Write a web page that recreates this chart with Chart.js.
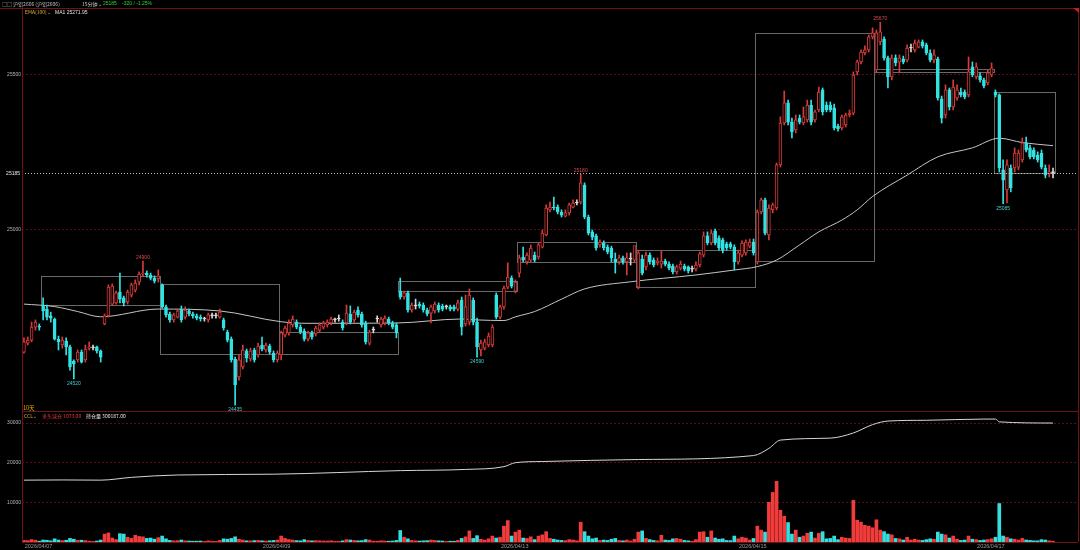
<!DOCTYPE html>
<html><head><meta charset="utf-8">
<script src="https://cdn.jsdelivr.net/npm/chart.js@4.4.1/dist/chart.umd.min.js"></script>
<style>
html,body{margin:0;padding:0;background:#000;width:1080px;height:550px;overflow:hidden;}
#wrap{position:relative;width:1080px;height:550px;background:#000;}
#main{position:absolute;left:0;top:0;}
#sub{position:absolute;left:0;top:412px;}
</style></head><body>
<div id="wrap"><canvas id="main" width="1080" height="412"></canvas><canvas id="sub" width="1080" height="138"></canvas></div>
<script>
// ---- structure ----
const preBars = 5;
const barsPerDay = [31,31,31,31,31,31,31,31,16];
const dateTicks = ['2026/04/07','2026/04/09','2026/04/13','2026/04/15','2026/04/17'];
const dateTickDays = [0,2,4,6,8];

// ---- candles (15-minute bars) ----
const opens = [
24606,24635,24645,24687,24690,
24758,24745,24723,24713,24648,24629,24642,24623,24577,24581,24606,24581,24619,24620,24623,24610,24697,24723,24761,24765,24800,24781,24768,24790,24806,24832,24858,24861,24855,24845,24842,
24823,24752,24729,24710,24719,24745,24719,24739,24729,24723,24719,24713,24710,24723,24723,24719,24710,24671,24648,24584,24526,24558,24610,24584,24613,24597,24629,24613,24626,24603,24581,
24597,24661,24668,24694,24703,24687,24674,24648,24668,24665,24677,24687,24694,24700,24710,24713,24703,24700,24729,24710,24742,24729,24700,24635,24677,24713,24694,24700,24713,24700,24694,
24803,24784,24797,24742,24755,24761,24758,24742,24732,24739,24758,24755,24752,24752,24752,24745,24774,24697,24703,24774,24703,24613,24619,24629,24629,24790,24719,24752,24816,24845,24803,
24861,24913,24897,24903,24919,24913,24945,24984,25065,25074,25074,25058,25045,25055,25074,25087,25090,25145,25042,24994,24981,24952,24958,24945,24942,24906,24897,24910,24897,24906,24903,
24816,24906,24881,24919,24903,24894,24890,24900,24890,24884,24865,24877,24884,24881,24874,24874,24887,24919,24981,24958,24997,24974,24968,24955,24955,24945,24897,24919,24926,24948,24961,
24897,25058,25097,24984,25065,25071,25210,25345,25410,25348,25323,25361,25345,25355,25403,25355,25387,25452,25403,25403,25394,25335,25329,25339,25371,25377,25510,25542,25571,25581,25623,
25516,25607,25616,25555,25494,25555,25542,25552,25548,25587,25581,25590,25607,25597,25571,25548,25552,25423,25371,25452,25397,25426,25445,25445,25436,25526,25494,25497,25484,25474,25500,
25445,25436,25194,25129,25200,25200,25203,25226,25281,25265,25258,25242,25248,25200,25184,25185];
const highs = [
24652,24655,24703,24710,24697,
24781,24758,24735,24716,24658,24655,24652,24629,24581,24613,24613,24629,24639,24629,24626,24613,24729,24823,24826,24803,24861,24787,24806,24829,24839,24865,24900,24868,24861,24852,24871,
24826,24758,24735,24732,24745,24755,24752,24745,24735,24729,24726,24719,24732,24732,24732,24745,24716,24677,24655,24590,24597,24629,24616,24619,24619,24635,24655,24635,24632,24610,24610,
24674,24690,24710,24723,24710,24694,24681,24674,24674,24690,24700,24706,24710,24719,24716,24726,24710,24758,24755,24742,24752,24735,24706,24677,24687,24723,24719,24723,24719,24706,24700,
24845,24803,24803,24765,24777,24768,24765,24748,24758,24768,24765,24761,24758,24758,24758,24774,24784,24790,24810,24781,24716,24645,24648,24668,24694,24797,24758,24819,24894,24852,24839,
24919,24945,24926,24952,24929,24958,25000,25081,25090,25106,25081,25065,25065,25087,25097,25097,25180,25152,25048,25000,24987,24968,24965,24952,24948,24926,24919,24916,24926,24926,24942,
24935,24919,24929,24926,24910,24910,24932,24906,24897,24890,24887,24900,24890,24884,24884,24897,24929,24994,24994,25000,25003,24981,24974,24961,24961,24952,24935,24965,24968,24971,24971,
25065,25103,25103,25081,25087,25216,25365,25448,25419,25361,25371,25371,25397,25419,25419,25387,25461,25458,25413,25413,25406,25342,25371,25377,25387,25510,25548,25581,25594,25629,25652,
25645,25670,25623,25561,25565,25565,25565,25561,25597,25600,25613,25613,25613,25603,25581,25581,25558,25432,25468,25458,25484,25468,25458,25452,25558,25542,25539,25507,25490,25516,25539,
25452,25439,25226,25226,25210,25265,25258,25297,25300,25274,25265,25252,25258,25210,25210,25200];
const lows = [
24603,24629,24639,24677,24677,
24710,24710,24703,24645,24613,24619,24597,24548,24520,24574,24571,24574,24613,24613,24603,24574,24694,24719,24758,24761,24765,24755,24761,24784,24800,24823,24852,24848,24839,24829,24832,
24748,24719,24703,24703,24716,24703,24713,24723,24716,24710,24706,24706,24703,24716,24716,24716,24677,24639,24574,24435,24516,24552,24574,24577,24574,24590,24610,24606,24600,24574,24574,
24581,24655,24661,24687,24681,24665,24642,24642,24648,24658,24671,24681,24687,24694,24703,24706,24677,24694,24697,24703,24719,24687,24632,24629,24668,24703,24687,24694,24694,24681,24652,
24777,24777,24735,24735,24745,24748,24735,24723,24700,24732,24735,24739,24745,24739,24739,24739,24661,24690,24694,24694,24590,24594,24613,24623,24623,24713,24713,24745,24810,24813,24797,
24848,24897,24890,24897,24897,24906,24942,24981,25058,25065,25052,25042,25042,25048,25071,25081,25084,25036,24984,24968,24935,24945,24935,24923,24897,24861,24890,24890,24855,24887,24897,
24810,24855,24871,24890,24881,24887,24877,24884,24871,24858,24858,24871,24868,24861,24865,24868,24881,24913,24952,24952,24952,24935,24926,24935,24939,24871,24890,24913,24919,24942,24919,
24890,25052,24984,24968,25055,25065,25203,25339,25339,25297,25313,25342,25339,25348,25339,25348,25381,25371,25381,25381,25323,25319,25323,25332,25365,25371,25500,25536,25565,25574,25616,
25510,25597,25548,25458,25484,25529,25507,25536,25542,25574,25574,25587,25587,25565,25542,25539,25419,25345,25361,25387,25387,25419,25429,25423,25429,25494,25487,25477,25458,25468,25494,
25429,25187,25085,25087,25123,25187,25194,25219,25252,25229,25229,25219,25197,25168,25171,25168];
const closes = [
24639,24645,24687,24703,24687,
24739,24719,24716,24648,24639,24645,24623,24558,24568,24606,24574,24616,24623,24620,24610,24590,24723,24816,24819,24797,24777,24765,24800,24823,24829,24858,24861,24855,24845,24835,24852,
24752,24726,24710,24726,24739,24710,24742,24729,24723,24716,24713,24713,24726,24723,24723,24735,24684,24645,24581,24500,24581,24613,24587,24610,24581,24626,24616,24629,24606,24581,24603,
24668,24684,24700,24713,24687,24671,24648,24668,24655,24684,24694,24700,24703,24713,24710,24713,24684,24732,24703,24735,24726,24694,24639,24671,24677,24713,24713,24716,24700,24687,24668,
24784,24797,24742,24758,24755,24755,24742,24729,24752,24761,24742,24745,24752,24745,24745,24765,24687,24752,24790,24703,24623,24635,24639,24658,24687,24719,24752,24813,24848,24819,24832,
24910,24903,24919,24942,24903,24952,24990,25071,25074,25071,25058,25048,25055,25081,25087,25087,25152,25042,24990,24977,24942,24961,24942,24929,24910,24897,24910,24897,24910,24906,24950,
24926,24861,24919,24897,24887,24900,24900,24890,24877,24865,24881,24890,24874,24868,24874,24887,24923,24981,24958,24990,24958,24942,24935,24942,24945,24897,24926,24958,24961,24961,24926,
25058,25097,24990,25071,25081,25210,25345,25410,25348,25316,25355,25348,25365,25403,25348,25381,25445,25381,25387,25387,25329,25326,25365,25371,25377,25500,25542,25574,25581,25623,25636,
25636,25639,25555,25494,25555,25539,25555,25542,25587,25587,25603,25607,25594,25571,25548,25565,25426,25361,25452,25397,25461,25452,25436,25429,25510,25500,25526,25484,25465,25507,25523,
25436,25200,25161,25210,25136,25248,25248,25281,25258,25236,25236,25226,25203,25177,25187,25185];

// ---- volume (lower panel) ----
const volumes = [
400,350,600,450,200,
500,450,300,800,500,350,450,900,700,400,450,350,200,150,250,500,2000,2300,1000,600,2100,2000,1200,900,1700,1400,1300,900,1000,700,1100,
1500,800,400,300,350,500,300,250,200,200,250,150,300,150,150,400,800,700,900,1300,700,500,300,300,350,400,300,250,300,400,500,
1500,900,600,500,350,300,600,400,300,350,300,250,250,300,150,150,300,600,500,400,300,350,600,500,200,200,300,250,200,250,400,
2900,1200,800,400,300,250,300,350,500,400,300,250,150,200,200,400,900,1300,2800,900,1600,700,500,800,1500,1000,1200,4000,5400,1500,2500,
3000,1000,900,1300,600,1500,1800,2600,900,700,500,400,350,600,500,300,5000,2600,1500,800,1000,400,500,400,700,900,400,300,500,250,700,
2500,2800,900,600,400,300,1700,500,400,800,900,700,400,300,200,600,2500,2600,1200,2800,1000,700,800,400,350,1500,800,1200,1000,500,900,
4000,3000,2500,10000,12500,15300,8000,6500,4900,2000,3000,1200,1500,2200,2500,1000,2200,2600,800,900,1500,600,1200,1000,900,10500,5500,5000,4200,4000,3600,
5600,3000,2600,2000,1800,900,800,500,1200,500,700,500,400,600,800,700,2500,2000,1800,1000,1500,700,400,500,1500,700,600,400,500,600,800,
1200,9700,1500,1200,800,700,500,900,500,400,300,300,600,500,300,200];

// ---- EMA(100) line, read at sampled bars ----
const maBars   = [0,8,14,20,35,51,67,74,97,114,118,125,128,133,140,146,158,175,185,191,196,202,207,213,217,221,230,238,247,254,260,268];
const maValues = [24761,24753,24737,24720,24745,24739,24704,24699,24700,24713,24710,24708,24720,24737,24777,24810,24833,24855,24871,24882,24903,24952,24994,25032,25065,25108,25177,25236,25265,25296,25282,25272];

// ---- open interest line, read at sampled bars ----
const oiBars   = [0,10,20,28,40,65,98,115,125,128,135,160,190,194,197,210,216,221,225,235,250,253,254,268];
const oiValues = [15600,15650,15600,16300,16900,17100,18000,18300,19000,20000,20300,20800,21800,23600,25700,26200,27500,29600,30500,30700,31000,31000,30300,30000];

// ---- day open/close boxes ----
const boxHigh = [24852,24826,24671,24835,24961,24935,25636,25519,25445];
const boxLow  = [24758,24600,24600,24803,24897,24816,24900,25510,25185];

// ---- marked extremes (bar indices) ----
const markHigh = [31,145,223];
const markLow  = [13,55,118,255];

const yTicksMain = [25000,25500];
const yTicksSub = [10000,20000,30000];

// ---------------------------------------------------------
const N = opens.length;
const dayStarts = []; { let s = preBars; for (const n of barsPerDay) { dayStarts.push(s); s += n; } }
const RIGHT_PAD = 6;
const UP = '#d83a3a', DOWN = '#33e2e2', DOJI = '#d8d8d8';
const FRAME = '#6e1414';
const dir = opens.map((o,i)=> closes[i] > o ? 1 : (closes[i] < o ? -1 : 0));
const wickData = opens.map((o,i)=>({x:i, y:[lows[i], highs[i]]}));
const bodyData = opens.map((o,i)=>({x:i, y:[o, closes[i]]}));
const wickCol = dir.map(d=> d>0?UP:(d<0?DOWN:DOJI));
const bodyFill = dir.map(d=> d>0?'#000':(d<0?DOWN:DOJI));
const bodyBorder = dir.map(d=> d>0?UP:(d<0?DOWN:DOJI));
const volCol = dir.map(d=> d<0?'#36dede':'#f23c3c');
const maData = maBars.map((b,k)=>({x:b, y:maValues[k]}));
const oiData = oiBars.map((b,k)=>({x:b, y:oiValues[k]}));
const volData = volumes.map((v,i)=>({x:i, y:v}));

const SMALL = 'Liberation Sans';
const CJK = '"Noto Sans CJK SC", "Liberation Sans"';

function txt(ctx, s, x, y, color, size, align, base, fam) {
  ctx.fillStyle = color; ctx.font = size + 'px ' + (fam || SMALL);
  ctx.textAlign = align || 'left'; ctx.textBaseline = base || 'middle';
  ctx.fillText(s, x, y);
}

const mainPlugin = {
  id: 'mainOverlay',
  beforeDatasetsDraw(chart) {
    const {ctx, scales:{x, y}} = chart;
    ctx.save();
    ctx.strokeStyle = '#686868'; ctx.lineWidth = 1;
    dayStarts.forEach((st,k)=>{
      const x0 = Math.round(x.getPixelForValue(st-0.5))+0.5;
      const x1 = Math.round(x.getPixelForValue(st+barsPerDay[k]-0.5))+0.5;
      const y0 = Math.round(y.getPixelForValue(boxHigh[k]))+0.5;
      const y1 = Math.round(y.getPixelForValue(boxLow[k]))+0.5;
      ctx.strokeRect(x0, y0, x1-x0, Math.max(1, y1-y0));
    });
    ctx.restore();
  },
  afterDatasetsDraw(chart) {
    const {ctx, chartArea:a, scales:{x, y}} = chart;
    ctx.save();
    const last = closes[N-1];
    const py = Math.round(y.getPixelForValue(last))+0.5;
    ctx.strokeStyle = '#bdbdbd'; ctx.setLineDash([1,2]); ctx.lineWidth = 1;
    ctx.beginPath(); ctx.moveTo(a.left, py); ctx.lineTo(a.right, py); ctx.stroke();
    ctx.setLineDash([]);
    txt(ctx, String(last), a.left-2, py, '#e8e8e8', 5, 'right');
    markHigh.forEach(i=> txt(ctx, String(highs[i]), x.getPixelForValue(i), y.getPixelForValue(highs[i])-1, '#d84a4a', 5, 'center', 'bottom'));
    markLow.forEach(i=> txt(ctx, String(lows[i]), x.getPixelForValue(i), y.getPixelForValue(lows[i])+2, '#3fd0d0', 5, 'center', 'top'));
    ctx.restore();
  },
  afterDraw(chart) {
    const {ctx, chartArea:a} = chart;
    ctx.save();
    ctx.strokeStyle = FRAME; ctx.lineWidth = 1;
    ctx.beginPath();
    ctx.moveTo(0, 8.5); ctx.lineTo(a.right, 8.5);
    ctx.moveTo(a.left+0.5, 8); ctx.lineTo(a.left+0.5, 412);
    ctx.moveTo(a.right+0.5, 8); ctx.lineTo(a.right+0.5, 412);
    ctx.moveTo(a.left, 411.5); ctx.lineTo(a.right, 411.5);
    ctx.stroke();
    ctx.fillStyle = '#c02020';
    ctx.beginPath(); ctx.moveTo(a.right-5, 8); ctx.lineTo(a.right+1, 8); ctx.lineTo(a.right+1, 13); ctx.closePath(); ctx.fill();
    txt(ctx, '□□ 沪铝2606 (沪铝2606)', 2, 4, '#bdbdbd', 5, 'left', 'middle', CJK);
    txt(ctx, '15分钟⌄', 82, 4, '#cfcfcf', 5, 'left', 'middle', CJK);
    txt(ctx, String(closes[N-1]), 103, 4, '#33cc33', 5, 'left', 'middle');
    txt(ctx, '-320 / -1.25%', 122, 4, '#33cc33', 5, 'left', 'middle');
    txt(ctx, 'EMA(100)⌄', 25, 12.5, '#e0b030', 5, 'left', 'middle', CJK);
    txt(ctx, 'MA1 25271.95', 55, 12.5, '#e0e0e0', 5, 'left', 'middle');
    txt(ctx, '10天', 23, 408, '#d8b400', 5.5, 'left', 'middle', CJK);
    ctx.restore();
  }
};

const subPlugin = {
  id: 'subOverlay',
  afterDraw(chart) {
    const {ctx, chartArea:a, scales:{x}} = chart;
    ctx.save();
    ctx.strokeStyle = FRAME; ctx.lineWidth = 1;
    ctx.beginPath();
    ctx.moveTo(a.left+0.5, 0); ctx.lineTo(a.left+0.5, a.bottom);
    ctx.moveTo(a.right+0.5, 0); ctx.lineTo(a.right+0.5, a.bottom);
    ctx.moveTo(a.left, Math.round(a.bottom)+0.5); ctx.lineTo(a.right, Math.round(a.bottom)+0.5);
    ctx.stroke();
    dateTickDays.forEach((k,j)=> txt(ctx, dateTicks[j], x.getPixelForValue(dayStarts[k]-1.2), a.bottom+4, '#9a9a9a', 5.5, 'center', 'middle'));
    txt(ctx, 'CCL⌄', 24, 4, '#e0b030', 5, 'left', 'middle', CJK);
    txt(ctx, '多头减仓 1073.00', 42, 4, '#e03a3a', 5, 'left', 'middle', CJK);
    txt(ctx, '持仓量 300187.00', 86, 4, '#e8e8e8', 5, 'left', 'middle', CJK);
    ctx.restore();
  }
};

const commonY = (ticks) => ({
  position: 'left',
  afterBuildTicks: s => { s.ticks = ticks.map(v=>({value:v})); },
  afterFit: s => { s.width = 22; s.paddingTop = 0; s.paddingBottom = 0; },
  ticks: { color:'#b8b8b8', font:{family:SMALL, size:5}, padding:1, autoSkip:false, callback: v => String(v) },
  grid: { color:'#5a1010', lineWidth:1, drawTicks:false },
  border: { display:false, dash:[2,2] }
});

new Chart(document.getElementById('main'), {
  type: 'bar',
  data: { datasets: [
    { type:'line', data: maData, borderColor:'#c4c4c4', borderWidth:1, pointRadius:0, cubicInterpolationMode:'monotone', order:3 },
    { data: wickData, backgroundColor: wickCol, borderWidth:0, barThickness:1, grouped:false, order:2 },
    { data: bodyData, backgroundColor: bodyFill, borderColor: bodyBorder, borderWidth:1, borderSkipped:false, barThickness:3, minBarLength:1, grouped:false, order:1 }
  ]},
  options: {
    responsive:false, animation:false, events:[],
    layout:{ padding:{ top:8, right:2, bottom:0, left:0 } },
    plugins:{ legend:{display:false}, tooltip:{enabled:false} },
    scales:{
      x:{ type:'linear', min:-0.5, max:N-0.5+RIGHT_PAD, offset:false, display:false },
      y: Object.assign({ min:24413, max:25716 }, commonY(yTicksMain))
    }
  },
  plugins:[mainPlugin]
});

new Chart(document.getElementById('sub'), {
  type: 'bar',
  data: { datasets: [
    { type:'line', data: oiData, borderColor:'#d6d6d6', borderWidth:1, pointRadius:0, cubicInterpolationMode:'monotone', order:0 },
    { data: volData, backgroundColor: volCol, borderWidth:0, barThickness:3, grouped:false, order:1 }
  ]},
  options: {
    responsive:false, animation:false, events:[],
    layout:{ padding:{ top:0, right:2, bottom:8, left:0 } },
    plugins:{ legend:{display:false}, tooltip:{enabled:false} },
    scales:{
      x:{ type:'linear', min:-0.5, max:N-0.5+RIGHT_PAD, offset:false, display:false },
      y: Object.assign({ min:0, max:32785 }, commonY(yTicksSub))
    }
  },
  plugins:[subPlugin]
});
</script>
</body></html>
